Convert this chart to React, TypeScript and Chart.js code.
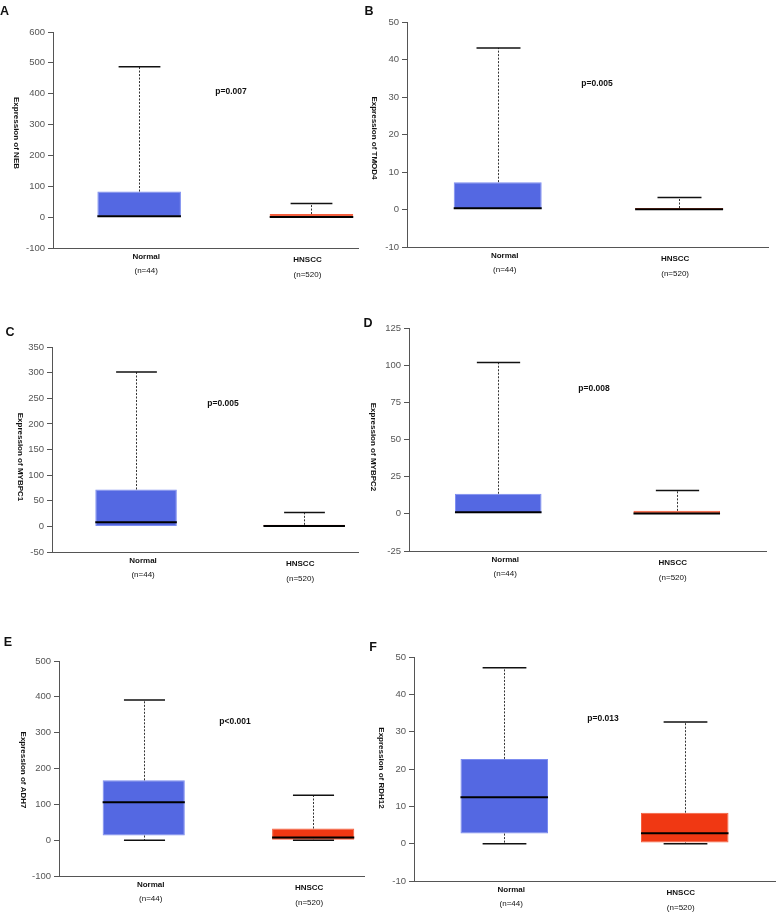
import React, { useEffect, useRef } from 'react';
import { Chart, registerables } from 'chart.js';

Chart.register(...registerables);

// ---------- DATA ----------
const categories = ['Normal', 'HNSCC'];
const sampleSizes = ['(n=44)', '(n=520)'];
const panelLetters = ['A', 'B', 'C', 'D', 'E', 'F'];
const genes = ['NEB', 'TMOD4', 'MYBPC1', 'MYBPC2', 'ADH7', 'RDH12'];
const pValueLabels = ['p=0.007', 'p=0.005', 'p=0.005', 'p=0.008', 'p<0.001', 'p=0.013'];

const yAxisMin = [-100, -10, -50, -25, -100, -10];
const yAxisMax = [600, 50, 350, 125, 500, 50];
const yAxisStep = [100, 10, 50, 25, 100, 10];

const normalLower = [0, 0, 0, 0, 0, 0];
const normalQ1 = [0, 0, 0, 0, 13, 2.7];
const normalMedian = [3, 0.35, 8, 1, 106, 12.4];
const normalQ3 = [83, 7.3, 72, 13.5, 167, 22.7];
const normalUpper = [487, 43.1, 301, 101.8, 391, 47.1];

const tumorLower = [0, 0, 0, 0, 0, 0];
const tumorQ1 = [0, 0, 0, 0, 1, 0.3];
const tumorMedian = [0.5, 0.1, 0.5, 0.3, 7.5, 2.8];
const tumorQ3 = [10, 0.4, 3, 2, 32.6, 8.3];
const tumorUpper = [44, 3.2, 27, 15.7, 125.6, 32.6];

// ---------- LAYOUT (page pixel coordinates) ----------
type PanelLayout = {
  cl: number; ct: number; cw: number; ch: number;
  axisX: number; top: number; bottom: number; right: number;
  xMax: number; letter: [number, number]; title: [number, number]; p: [number, number];
};

const panelLayout: PanelLayout[] = [
  { cl: 0, ct: 0, cw: 385, ch: 300, axisX: 53, top: 32, bottom: 248, right: 358, xMax: 2.27, letter: [4.5, 12], title: [16, 133], p: [231, 92] },
  { cl: 360, ct: 0, cw: 417, ch: 300, axisX: 407, top: 22, bottom: 247, right: 768, xMax: 2.49, letter: [369, 12], title: [374, 138], p: [597, 84] },
  { cl: 0, ct: 300, cw: 385, ch: 300, axisX: 52, top: 347, bottom: 552, right: 358, xMax: 2.32, letter: [10, 333], title: [20, 457], p: [223, 404] },
  { cl: 360, ct: 300, cw: 417, ch: 300, axisX: 409, top: 328, bottom: 551, right: 766, xMax: 2.5, letter: [368, 324], title: [373, 447], p: [594, 389] },
  { cl: 0, ct: 600, cw: 385, ch: 316, axisX: 59, top: 661, bottom: 876, right: 364, xMax: 2.3, letter: [8, 643], title: [23, 770], p: [235, 722] },
  { cl: 360, ct: 600, cw: 417, ch: 316, axisX: 414, top: 657, bottom: 881, right: 775, xMax: 2.5, letter: [373, 648], title: [381, 768], p: [603, 719] },
];

const FONT = '"Liberation Sans", Arial, Helvetica, sans-serif';
const boxColors = ['#5468E2', '#F03813'];
const boxBorderColors = ['#7C8CF0', '#F5603F'];
const axisColor = '#555555';
const labelDx = [7, -4];
const labelDy = [8.3, 12.2];
const sampleDy = [22.7, 27.0];

function Panel({ idx }: { idx: number }) {
  const ref = useRef<HTMLCanvasElement>(null);
  const L = panelLayout[idx];

  useEffect(() => {
    const canvas = ref.current;
    if (!canvas) return;
    const lows = [normalLower[idx], tumorLower[idx]];
    const q1s = [normalQ1[idx], tumorQ1[idx]];
    const meds = [normalMedian[idx], tumorMedian[idx]];
    const q3s = [normalQ3[idx], tumorQ3[idx]];
    const highs = [normalUpper[idx], tumorUpper[idx]];

    const boxPlugin = {
      id: 'boxExtras' + idx,
      afterDatasetsDraw(chart: any) {
        const ctx = chart.ctx as CanvasRenderingContext2D;
        const ys = chart.scales.y;
        const meta = chart.getDatasetMeta(0);
        const py = (v: number) => ys.getPixelForValue(v);
        ctx.save();
        for (let i = 0; i < 2; i++) {
          const bar = meta.data[i] as any;
          const cx = Math.round(bar.x) + 0.5;
          const w = bar.width;
          const capW = w * 0.5;
          const hasLower = q1s[i] > lows[i];
          // whiskers (dashed)
          ctx.strokeStyle = '#333333';
          ctx.lineWidth = 1;
          ctx.setLineDash([2, 1.5]);
          ctx.beginPath();
          ctx.moveTo(cx, py(q3s[i]));
          ctx.lineTo(cx, py(highs[i]));
          if (hasLower) {
            ctx.moveTo(cx, py(q1s[i]));
            ctx.lineTo(cx, py(lows[i]));
          }
          ctx.stroke();
          ctx.setLineDash([]);
          // caps
          ctx.strokeStyle = '#111111';
          ctx.lineWidth = 1.5;
          ctx.beginPath();
          ctx.moveTo(cx - capW / 2, py(highs[i]));
          ctx.lineTo(cx + capW / 2, py(highs[i]));
          if (hasLower) {
            ctx.moveTo(cx - capW / 2, py(lows[i]));
            ctx.lineTo(cx + capW / 2, py(lows[i]));
          }
          ctx.stroke();
          // median
          ctx.strokeStyle = '#000000';
          ctx.lineWidth = 2;
          ctx.beginPath();
          ctx.moveTo(bar.x - w / 2, py(meds[i]));
          ctx.lineTo(bar.x + w / 2, py(meds[i]));
          ctx.stroke();
        }
        // category labels
        const xs = chart.scales.x;
        const base = chart.chartArea.bottom;
        ctx.fillStyle = '#111111';
        ctx.textAlign = 'center';
        ctx.textBaseline = 'middle';
        for (let i = 0; i < 2; i++) {
          const x = xs.getPixelForValue(i + 1) + labelDx[i];
          ctx.font = `bold 8px ${FONT}`;
          ctx.fillText(categories[i], x, base + labelDy[i]);
          ctx.font = `8px ${FONT}`;
          ctx.fillText(sampleSizes[i], x, base + sampleDy[i]);
        }
        // p-value
        ctx.font = `bold 8.5px ${FONT}`;
        ctx.fillText(pValueLabels[idx], L.p[0] - L.cl, L.p[1] - L.ct);
        // panel letter
        ctx.font = `bold 12.5px ${FONT}`;
        ctx.fillText(panelLetters[idx], L.letter[0] - L.cl, L.letter[1] - L.ct);
        // y title (rotated clockwise)
        ctx.save();
        ctx.translate(L.title[0] - L.cl, L.title[1] - L.ct);
        ctx.rotate(Math.PI / 2);
        ctx.font = `bold 8px ${FONT}`;
        ctx.fillText('Expression of ' + genes[idx], 0, 0);
        ctx.restore();
        ctx.restore();
      },
    };

    const chart = new Chart(canvas, {
      type: 'bar',
      data: {
        datasets: [
          {
            data: [
              { x: 1, y: [q1s[0], q3s[0]] },
              { x: 2, y: [q1s[1], q3s[1]] },
            ] as any,
            backgroundColor: boxColors,
            borderColor: boxBorderColors,
            borderWidth: 1,
            borderSkipped: false,
            barPercentage: 0.485,
            categoryPercentage: 1,
          },
        ],
      },
      options: {
        responsive: false,
        maintainAspectRatio: false,
        animation: false,
        layout: {
          padding: {
            left: 0,
            top: L.top - L.ct,
            right: L.cl + L.cw - L.right,
            bottom: L.ct + L.ch - L.bottom,
          },
        },
        plugins: {
          legend: { display: false },
          tooltip: { enabled: false },
        },
        scales: {
          x: {
            type: 'linear',
            offset: false,
            min: 0.5,
            max: L.xMax,
            afterBuildTicks: (s: any) => {
              s.ticks = [{ value: 1 }, { value: 2 }];
            },
            ticks: { display: false },
            grid: { display: false, offset: false },
            border: { display: true, color: axisColor, width: 1 },
            afterFit: (s: any) => {
              s.height = 0;
            },
          },
          y: {
            min: yAxisMin[idx],
            max: yAxisMax[idx],
            ticks: {
              stepSize: yAxisStep[idx],
              font: { family: FONT, size: 9.5 },
              color: '#555555',
              padding: 3,
            },
            grid: {
              display: true,
              drawOnChartArea: false,
              drawTicks: true,
              tickLength: 5,
              color: axisColor,
            },
            border: { display: true, color: axisColor, width: 1 },
            afterFit: (s: any) => {
              s.width = L.axisX - L.cl;
            },
          },
        },
      } as any,
      plugins: [boxPlugin],
    });
    return () => chart.destroy();
  }, [idx]);

  return (
    <canvas
      ref={ref}
      width={L.cw}
      height={L.ch}
      style={{ position: 'absolute', left: L.cl, top: L.ct, width: L.cw, height: L.ch }}
    />
  );
}

export default function App() {
  return (
    <div
      style={{
        position: 'absolute',
        left: 0,
        top: 0,
        width: 777,
        height: 916,
        background: '#ffffff',
        overflow: 'hidden',
      }}
    >
      {panelLetters.map((_, i) => (
        <Panel key={i} idx={i} />
      ))}
    </div>
  );
}
